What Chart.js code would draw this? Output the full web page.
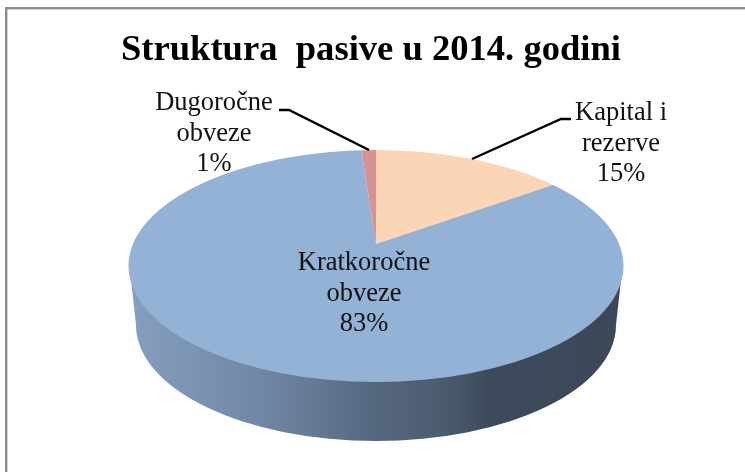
<!DOCTYPE html>
<html>
<head>
<meta charset="utf-8">
<style>html,body{margin:0;padding:0;background:#fff}canvas{display:block}</style>
<script src="https://cdn.jsdelivr.net/npm/chart.js@4/dist/chart.umd.min.js"></script>
</head>
<body>
<canvas id="c" width="745" height="472"></canvas>
<script>
const titleText = "Struktura  pasive u 2014. godini";
const categories = [["Kapital i", "rezerve"], ["Kratkoročne", "obveze"], ["Dugoročne", "obveze"]];
const shares = [15.4, 83.4, 1.2];
const colors = ["#FBD5B5", "#94B1D6", "#D69392"];

const SERIF = '"Liberation Serif", "Times New Roman", serif';
const APEX = {x: 376, y: 244};
const SQUASH = 0.485;
const TOP = {x: 376, y: 266, rx: 247.5, ry: 116};
const BASE = {x: 376, y: 325, rx: 240, ry: 116};
const LABELS = [
  {x: 621, y: 120},
  {x: 364, y: 270},
  {x: 214, y: 110}
];
const LEADERS = [
  [[571, 119], [561, 119], [472, 159]],
  null,
  [[279, 110], [289, 110], [369, 150]]
];

const pie3d = {
  id: "pie3d",
  beforeDraw(chart) {
    const c = chart.ctx;
    c.save();
    c.fillStyle = "#8c8c8c";
    c.fillRect(5, 7, 740, 2.4);
    c.fillRect(5, 7, 2.4, 465);
    c.restore();
  },
  beforeDatasetsDraw(chart) {
    const c = chart.ctx;
    const arc = chart.getDatasetMeta(0).data[0];
    c.save();
    const g = c.createLinearGradient(TOP.x - TOP.rx, 0, TOP.x + TOP.rx, 0);
    g.addColorStop(0, "#869FBF");
    g.addColorStop(0.12, "#7C95B4");
    g.addColorStop(0.28, "#6F86A3");
    g.addColorStop(0.5, "#55677F");
    g.addColorStop(0.63, "#4C5C70");
    g.addColorStop(0.73, "#3D4A5B");
    g.addColorStop(1, "#3C4858");
    c.fillStyle = g;
    c.beginPath();
    c.moveTo(TOP.x - TOP.rx + 1, TOP.y);
    c.lineTo(BASE.x - BASE.rx, BASE.y);
    c.ellipse(BASE.x, BASE.y, BASE.rx, BASE.ry, 0, Math.PI, 0, true);
    c.lineTo(TOP.x + TOP.rx - 1, TOP.y);
    c.closePath();
    c.fill();
    c.beginPath();
    c.ellipse(TOP.x, TOP.y, TOP.rx, TOP.ry, 0, 0, Math.PI * 2);
    c.clip();
    c.translate(APEX.x, APEX.y);
    c.scale(1, SQUASH);
    c.translate(-arc.x, -arc.y);
  },
  afterDatasetsDraw(chart) {
    const c = chart.ctx;
    c.restore();
    c.save();
    c.strokeStyle = "#000";
    c.lineWidth = 2.4;
    LEADERS.forEach(l => {
      if (!l) return;
      c.beginPath();
      l.forEach((p, i) => i ? c.lineTo(p[0], p[1]) : c.moveTo(p[0], p[1]));
      c.stroke();
    });
    c.fillStyle = "#111";
    c.font = "26.5px " + SERIF;
    c.textAlign = "center";
    c.textBaseline = "alphabetic";
    categories.forEach((lines, i) => {
      const text = lines.concat(Math.round(shares[i]) + "%");
      text.forEach((t, j) => c.fillText(t, LABELS[i].x, LABELS[i].y + j * 30.5));
    });
    c.restore();
  }
};

new Chart(document.getElementById("c"), {
  type: "pie",
  data: {
    labels: categories.map(l => l.join(" ")),
    datasets: [{data: shares, backgroundColor: colors, borderWidth: 0, clip: false}]
  },
  options: {
    responsive: false,
    animation: false,
    rotation: 0,
    radius: 320,
    layout: {padding: {right: 3}},
    plugins: {
      legend: {display: false},
      tooltip: {enabled: false},
      title: {
        display: true,
        text: titleText,
        color: "#000",
        font: {family: SERIF, size: 36.6, weight: "bold"},
        padding: {top: 29, bottom: 0}
      }
    }
  },
  plugins: [pie3d]
});
</script>
</body>
</html>
